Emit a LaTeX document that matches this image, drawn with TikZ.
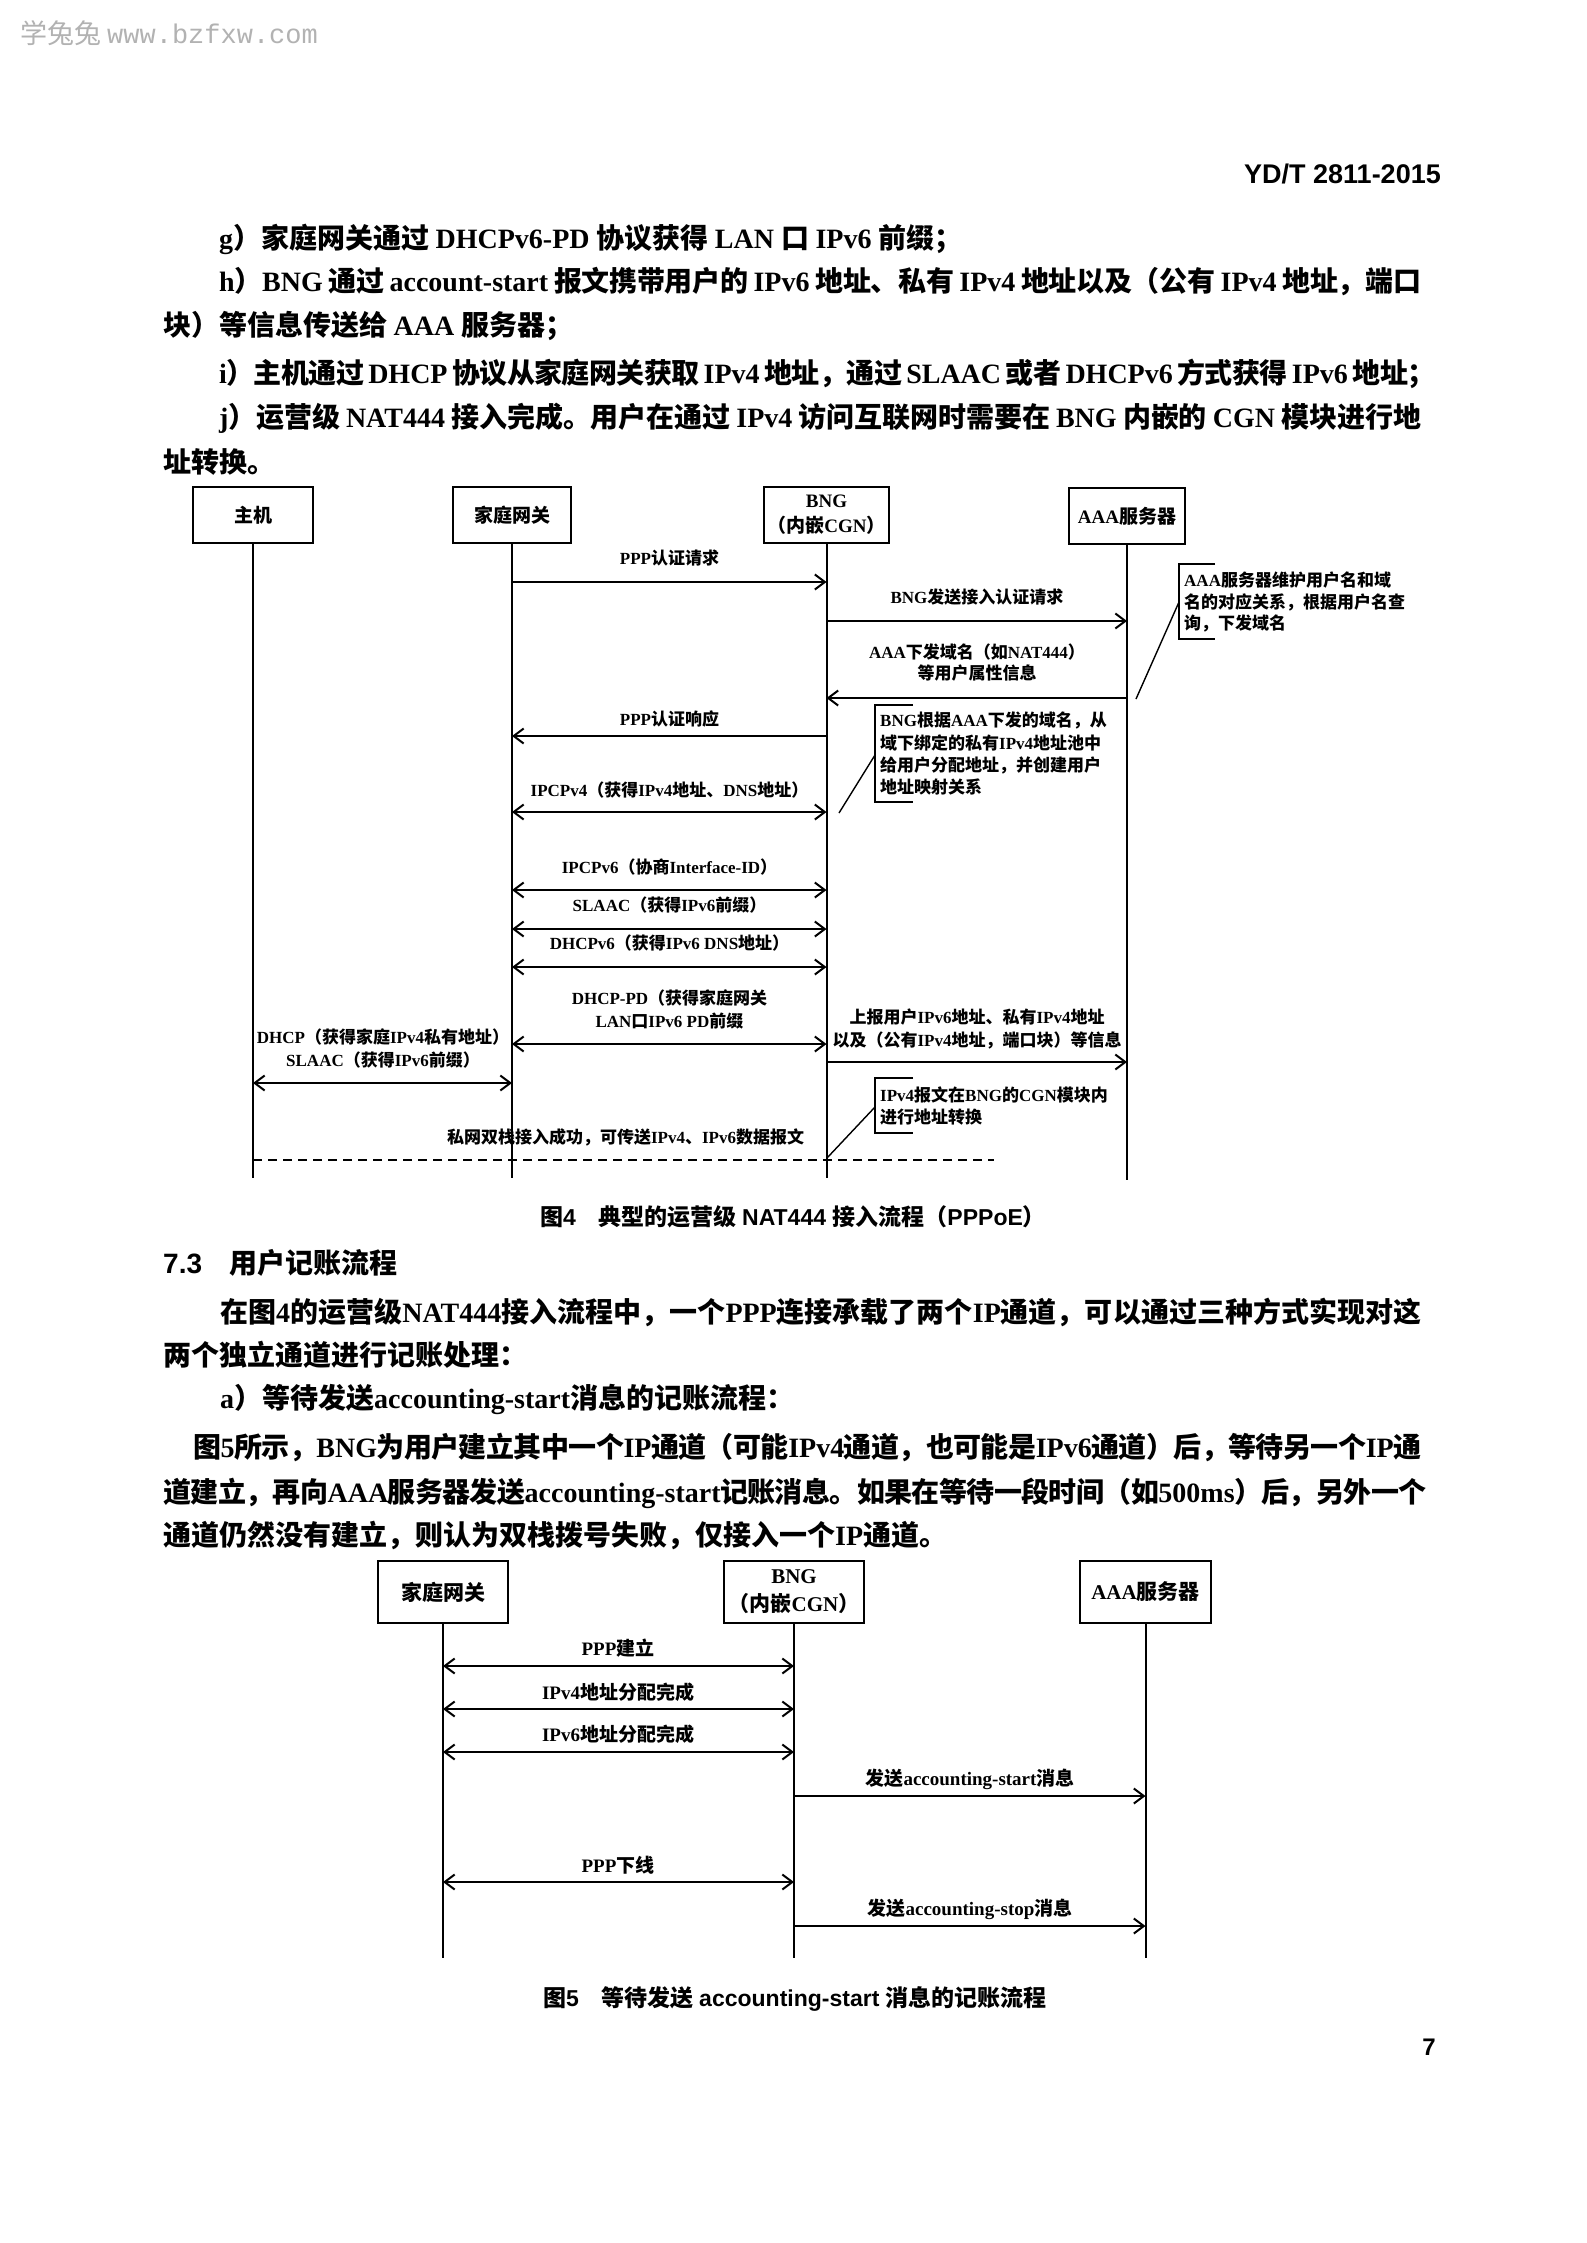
\documentclass[tikz,border=0pt]{standalone}
\usepackage{fontspec}
\setmainfont{Liberation Serif}
\setsansfont{Liberation Sans}
\setmonofont{Liberation Mono}
\newfontfamily\cjkf{Noto Sans CJK SC}
\usetikzlibrary{arrows.meta}
\newcount\cjkc
\cjkc="2E80
\loop\XeTeXcharclass\cjkc=10 \advance\cjkc by 1 \ifnum\cjkc<"A000 \repeat
\cjkc="FF00
\loop\XeTeXcharclass\cjkc=10 \advance\cjkc by 1 \ifnum\cjkc<"FFF0 \repeat
\def\latinf{\rmfamily}
\def\cjkglue{}
\XeTeXinterchartokenstate=1
\XeTeXinterchartoks 0 10 = {\cjkf\cjkglue}
\XeTeXinterchartoks 4095 10 = {\cjkf}
\XeTeXinterchartoks 10 0 = {\latinf\cjkglue}
\XeTeXinterchartoks 4095 0 = {\latinf}
\XeTeXinterchartoks 10 10 = {\cjkglue}
\newcommand\fsz[2]{\fontsize{#1}{#2}\selectfont}
\newcommand\jline[1]{\hbox to #1pt\bgroup\def\cjkglue{\hskip 0pt plus 3pt minus 0.6pt\relax}}
\newcommand\msgline[5]{%
  \coordinate (#1a) at (#3.south |- 0,#5);
  \coordinate (#1b) at (#4.south |- 0,#5);
  \draw[#2] (#1a) -- (#1b);}
\begin{document}
\begin{tikzpicture}[x=1pt,y=-1pt,
  bodyt/.style={anchor=base west,inner sep=0,font=\fsz{28}{34}\bfseries},
  lbl/.style={anchor=base,inner sep=0,font=\fsz{17}{21}\bfseries},
  notet/.style={anchor=base west,inner sep=0,font=\fsz{17}{21}\bfseries},
  lblb/.style={anchor=base,inner sep=0,font=\fsz{19}{24}\bfseries},
  boxa/.style={draw,line width=2.4pt,inner sep=0,minimum height=56pt,align=center,font=\fsz{19}{25}\bfseries},
  boxb/.style={draw,line width=2.4pt,inner sep=0,minimum height=62pt,align=center,font=\fsz{21}{28}\bfseries},
  life/.style={line width=2pt},
  msg/.style={line width=2pt,-{Straight Barb[length=10pt,width=15pt]}},
  bmsg/.style={line width=2pt,{Straight Barb[length=10pt,width=15pt]}-{Straight Barb[length=10pt,width=15pt]}},
  brk/.style={line width=1.4pt},
  dashl/.style={line width=1.8pt,dash pattern=on 9pt off 6pt},
  capt/.style={anchor=base,inner sep=0,font=\def\latinf{\sffamily}\fsz{23}{28}\bfseries},
]
\useasboundingbox (0,0) rectangle (1587,2243);
\fill[white] (0,0) rectangle (1587,2243);

% watermark and header
\node[anchor=base west,inner sep=0,text=black!30,font=\def\latinf{\ttfamily}\fsz{27}{30}] (wm) at (20,43) {学兔兔 www.bzfxw.com};
\node[anchor=base east,inner sep=0,font=\def\latinf{\sffamily}\fsz{27}{30}\bfseries] (hdr) at (1441,183) {YD/T 2811-2015};

% top text
\node[bodyt] (tg) at (219,248) {g）家庭网关通过 DHCPv6-PD 协议获得 LAN 口 IPv6 前缀；};
\node[bodyt] (th) at (219,291) {\jline{1202}h）BNG 通过 account-start 报文携带用户的 IPv6 地址、私有 IPv4 地址以及（公有 IPv4 地址，端口\egroup};
\node[bodyt] (th2) at (163,335) {块）等信息传送给 AAA 服务器；};
\node[bodyt] (ti) at (219,383) {\jline{1202}i）主机通过 DHCP 协议从家庭网关获取 IPv4 地址，通过 SLAAC 或者 DHCPv6 方式获得 IPv6 地址；\egroup};
\node[bodyt] (tj) at (219,427) {\jline{1202}j）运营级 NAT444 接入完成。用户在通过 IPv4 访问互联网时需要在 BNG 内嵌的 CGN 模块进行地\egroup};
\node[bodyt] (tj2) at (163,472) {址转换。};

% ---------------- Figure 4 ----------------
\node[boxa,minimum width=120pt] (host) at (253,515) {主机};
\node[boxa,minimum width=118pt] (gw) at (512,515) {家庭网关};
\node[boxa,minimum width=125pt] (bng) at (826.5,515) {BNG\\（内嵌CGN）};
\node[boxa,minimum width=116pt] (aaa) at (1127,516) {AAA服务器};
\coordinate (hostend) at (253,1178);
\coordinate (gwend) at (512,1178);
\coordinate (bngend) at (826.5,1178);
\coordinate (aaaend) at (1127,1180);
\draw[life] (host.south) -- (hostend);
\draw[life] (gw.south) -- (gwend);
\draw[life] (bng.south) -- (bngend);
\draw[life] (aaa.south) -- (aaaend);

\node[lbl] (l1) at (669.5,564.5) {PPP认证请求};
\msgline{m1}{msg}{gw}{bng}{582}
\node[lbl] (l2) at (977,603.5) {BNG发送接入认证请求};
\msgline{m2}{msg}{bng}{aaa}{621}
\node[lbl] (l3a) at (977,658.5) {AAA下发域名（如NAT444）};
\node[lbl] (l3b) at (977,679.5) {等用户属性信息};
\msgline{m3}{msg}{aaa}{bng}{698}
\node[lbl] (l4) at (669.5,725.5) {PPP认证响应};
\msgline{m4}{msg}{bng}{gw}{736}
\node[lbl] (l5) at (669.5,796.5) {IPCPv4（获得IPv4地址、DNS地址）};
\msgline{m5}{bmsg}{gw}{bng}{812}
\node[lbl] (l6) at (669.5,873.5) {IPCPv6（协商Interface-ID）};
\msgline{m6}{bmsg}{gw}{bng}{890}
\node[lbl] (l7) at (669.5,911.5) {SLAAC（获得IPv6前缀）};
\msgline{m7}{bmsg}{gw}{bng}{929}
\node[lbl] (l8) at (669.5,949.5) {DHCPv6（获得IPv6 DNS地址）};
\msgline{m8}{bmsg}{gw}{bng}{967}
\node[lbl] (l9a) at (669.5,1004.5) {DHCP-PD（获得家庭网关};
\node[lbl] (l9b) at (669.5,1027.5) {LAN口IPv6 PD前缀};
\msgline{m9}{bmsg}{gw}{bng}{1044}
\node[lbl] (l10a) at (977,1023.5) {上报用户IPv6地址、私有IPv4地址};
\node[lbl] (l10b) at (977,1046.5) {以及（公有IPv4地址，端口块）等信息};
\msgline{m10}{msg}{bng}{aaa}{1062}
\node[lbl] (l11a) at (383,1043.5) {DHCP（获得家庭IPv4私有地址）};
\node[lbl] (l11b) at (383,1066.5) {SLAAC（获得IPv6前缀）};
\msgline{m11}{bmsg}{host}{gw}{1083}
\node[lbl] (l12) at (625.5,1143.5) {私网双栈接入成功，可传送IPv4、IPv6数据报文};
\coordinate (dashend) at (994,1160);
\draw[dashl] (host.south |- 0,1160) -- (dashend);

% notes
\coordinate (n1t) at (1215,564); \coordinate (n1u) at (1179,564);
\coordinate (n1v) at (1179,639); \coordinate (n1w) at (1215,639);
\draw[brk] (n1t) -- (n1u) -- (n1v) -- (n1w);
\coordinate (n1p) at (1136,699); \coordinate (n1q) at (1179,602);
\draw[brk] (n1p) -- (n1q);
\node[notet] (n1a) at (1184,586.5) {AAA服务器维护用户名和域};
\node[notet] (n1b) at (1184,608.5) {名的对应关系，根据用户名查};
\node[notet] (n1c) at (1184,629.5) {询，下发域名};

\coordinate (n2t) at (913,705); \coordinate (n2u) at (875,705);
\coordinate (n2v) at (875,802); \coordinate (n2w) at (913,802);
\draw[brk] (n2t) -- (n2u) -- (n2v) -- (n2w);
\coordinate (n2p) at (839,813); \coordinate (n2q) at (875,755);
\draw[brk] (n2p) -- (n2q);
\node[notet] (n2a) at (880,726.5) {BNG根据AAA下发的域名，从};
\node[notet] (n2b) at (880,749.5) {域下绑定的私有IPv4地址池中};
\node[notet] (n2c) at (880,771.5) {给用户分配地址，并创建用户};
\node[notet] (n2d) at (880,793.5) {地址映射关系};

\coordinate (n3t) at (913,1078); \coordinate (n3u) at (875,1078);
\coordinate (n3v) at (875,1133); \coordinate (n3w) at (913,1133);
\draw[brk] (n3t) -- (n3u) -- (n3v) -- (n3w);
\coordinate (n3p) at (827,1158); \coordinate (n3q) at (875,1107);
\draw[brk] (n3p) -- (n3q);
\node[notet] (n3a) at (880,1101.5) {IPv4报文在BNG的CGN模块内};
\node[notet] (n3b) at (880,1123.5) {进行地址转换};

\node[capt] (cap4) at (793,1225.5) {图4\hspace{23pt}典型的运营级 NAT444 接入流程（PPPoE）};

% section 7.3
\node[anchor=base west,inner sep=0,font=\def\latinf{\sffamily}\fsz{28}{34}\bfseries] (sec) at (163,1273) {7.3\hspace{27pt}用户记账流程};
\node[bodyt] (p1) at (220,1322) {\jline{1201}在图4的运营级NAT444接入流程中，一个PPP连接承载了两个IP通道，可以通过三种方式实现对这\egroup};
\node[bodyt] (p2) at (163,1365) {两个独立通道进行记账处理：};
\node[bodyt] (p3) at (220,1408) {a）等待发送accounting-start消息的记账流程：};
\node[bodyt] (p4) at (193,1457) {\jline{1228}图5所示，BNG为用户建立其中一个IP通道（可能IPv4通道，也可能是IPv6通道）后，等待另一个IP通\egroup};
\node[bodyt] (p5) at (163,1502) {\jline{1258}道建立，再向AAA服务器发送accounting-start记账消息。如果在等待一段时间（如500ms）后，另外一个\egroup};
\node[bodyt] (p6) at (163,1545) {通道仍然没有建立，则认为双栈拨号失败，仅接入一个IP通道。};

% ---------------- Figure 5 ----------------
\node[boxb,minimum width=130pt] (gw5) at (443,1592) {家庭网关};
\node[boxb,minimum width=140pt] (bng5) at (794,1592) {BNG\\（内嵌CGN）};
\node[boxb,minimum width=131pt] (aaa5) at (1145.5,1592) {AAA服务器};
\coordinate (gw5end) at (443,1958);
\coordinate (bng5end) at (794,1958);
\coordinate (aaa5end) at (1145.5,1958);
\draw[life] (gw5.south) -- (gw5end);
\draw[life] (bng5.south) -- (bng5end);
\draw[life] (aaa5.south) -- (aaa5end);

\node[lblb] (k1) at (618,1655) {PPP建立};
\msgline{f1}{bmsg}{gw5}{bng5}{1666}
\node[lblb] (k2) at (618,1699) {IPv4地址分配完成};
\msgline{f2}{bmsg}{gw5}{bng5}{1709}
\node[lblb] (k3) at (618,1741) {IPv6地址分配完成};
\msgline{f3}{bmsg}{gw5}{bng5}{1752}
\node[lblb] (k4) at (970,1785) {发送accounting-start消息};
\msgline{f4}{msg}{bng5}{aaa5}{1796}
\node[lblb] (k5) at (618,1872) {PPP下线};
\msgline{f5}{bmsg}{gw5}{bng5}{1882}
\node[lblb] (k6) at (970,1915) {发送accounting-stop消息};
\msgline{f6}{msg}{bng5}{aaa5}{1926}

\node[capt] (cap5) at (795,2006.5) {图5\hspace{23pt}等待发送 accounting-start 消息的记账流程};

\node[anchor=base,inner sep=0,font=\def\latinf{\sffamily}\fsz{24}{28}\bfseries] (pg) at (1429,2055.5) {7};
\end{tikzpicture}
\end{document}
